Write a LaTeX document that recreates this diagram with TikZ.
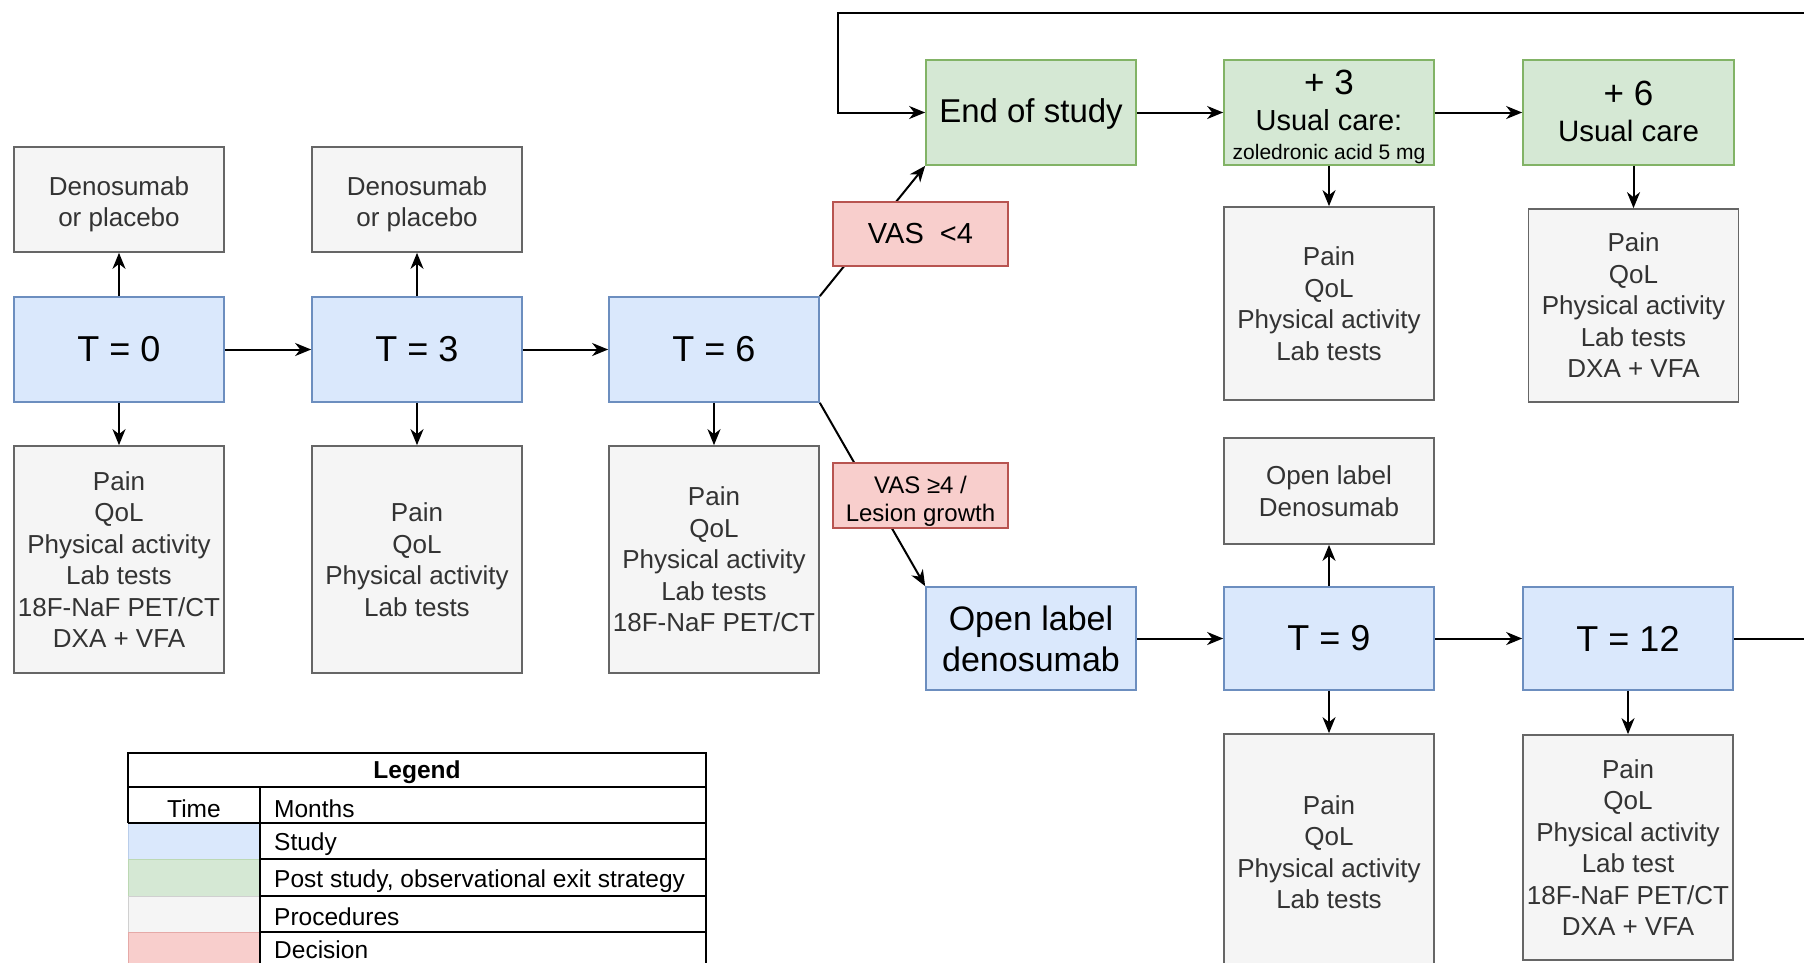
\documentclass[tikz,border=0pt]{standalone}
\usepackage{fontspec}
\setmainfont{Liberation Sans}
\usetikzlibrary{arrows.meta}
\definecolor{bluefill}{HTML}{DAE8FC}
\definecolor{bluedraw}{HTML}{6C8EBF}
\definecolor{greenfill}{HTML}{D5E8D4}
\definecolor{greendraw}{HTML}{82B366}
\definecolor{grayfill}{HTML}{F5F5F5}
\definecolor{graydraw}{HTML}{666666}
\definecolor{graytext}{HTML}{333333}
\definecolor{redfill}{HTML}{F8CECC}
\definecolor{reddraw}{HTML}{B85450}
\newcommand{\fsz}[2]{\fontsize{#1}{#2}\selectfont}
\begin{document}
\begin{tikzpicture}[x=1pt,y=-1pt,
  base/.style={draw, line width=1.7pt, inner sep=0pt, align=center},
  bluebox/.style={base, fill=bluefill, draw=bluedraw, text=black, minimum width=210pt, minimum height=105pt, font=\fsz{36}{42}},
  greenbox/.style={base, fill=greenfill, draw=greendraw, text=black, minimum width=210pt, minimum height=105pt},
  graybox/.style={base, fill=grayfill, draw=graydraw, text=graytext, minimum width=210pt, font=\fsz{26}{31.5}},
  redbox/.style={base, fill=redfill, draw=reddraw, text=black, minimum width=175pt},
  arr/.style={line width=2pt, -{Stealth[length=16pt,width=13pt,inset=5pt]}},
  legtxt/.style={font=\fsz{24.5}{28}, text=black, inner sep=0pt},
]
\useasboundingbox (0,0) rectangle (1804,962);
\clip (0,0) rectangle (1804,962);
\fill[white] (0,0) rectangle (1804,962);

% left part
\node[graybox, minimum height=105pt] (Den1) at (119,199.5) {\rule{0pt}{28pt}Denosumab\\or placebo};
\node[bluebox] (T0) at (119,349.5) {T = 0};
\node[graybox, minimum height=227pt] (Proc1) at (119,559.5) {Pain\\QoL\\Physical activity\\Lab tests\\18F-NaF PET/CT\\DXA + VFA};
\node[graybox, minimum height=105pt] (Den2) at (417,199.5) {\rule{0pt}{28pt}Denosumab\\or placebo};
\node[bluebox] (T3) at (417,349.5) {T = 3};
\node[graybox, minimum height=227pt] (Proc2) at (417,559.5) {Pain\\QoL\\Physical activity\\Lab tests};
\node[bluebox] (T6) at (714,349.5) {T = 6};
\node[graybox, minimum height=227pt] (Proc3) at (714,559.5) {Pain\\QoL\\Physical activity\\Lab tests\\18F-NaF PET/CT};

% upper branch
\node[greenbox, font=\fsz{33}{40}] (End) at (1031,112.5) {\rule{0pt}{27pt}End of study};
\node[greenbox, font=\fsz{29}{36},
  label={[anchor=south, inner sep=0pt, yshift=2pt, font=\fsz{21}{24}]south:zoledronic acid 5 mg}]
  (P3) at (1329,112.5) {{\fsz{35}{36}+ 3}\\Usual care:\rule[-24pt]{0pt}{24pt}};
\node[greenbox, font=\fsz{29.5}{36}, minimum width=211pt] (P6) at (1628.5,112.5) {{\fsz{35}{36}+ 6}\\Usual care\rule[-3pt]{0pt}{3pt}};
\node[graybox, minimum height=193pt] (ProcP3) at (1329,303.5) {Pain\\QoL\\Physical activity\\Lab tests};
\node[graybox, minimum height=193pt] (ProcP6) at (1633.5,305.5) {Pain\\QoL\\Physical activity\\Lab tests\\DXA + VFA};

% lower branch
\node[graybox, minimum height=106pt] (OLD) at (1329,491) {Open label\\Denosumab};
\node[bluebox, font=\fsz{34}{41}, minimum height=103pt] (OLB) at (1031,638.5) {Open label\\denosumab};
\node[bluebox, minimum height=103pt] (T9) at (1329,638.5) {T = 9};
\node[bluebox, minimum height=103pt] (T12) at (1628,638.5) {T = 12};
\node[graybox, minimum height=236pt] (Proc9) at (1329,852) {Pain\\QoL\\Physical activity\\Lab tests};
\node[graybox, minimum height=225pt] (Proc12) at (1628,847.5) {Pain\\QoL\\Physical activity\\Lab test\\18F-NaF PET/CT\\DXA + VFA};

% connectors
\draw[arr] (T0.north) -- (Den1.south);
\draw[arr] (T0.south) -- (Proc1.north);
\draw[arr] (T0.east) -- (T3.west);
\draw[arr] (T3.north) -- (Den2.south);
\draw[arr] (T3.south) -- (Proc2.north);
\draw[arr] (T3.east) -- (T6.west);
\draw[arr] (T6.south) -- (Proc3.north);
\draw[arr] (T6.north east) -- (End.south west);
\draw[arr] (T6.south east) -- (OLB.north west);
\draw[arr] (End.east) -- (P3.west);
\draw[arr] (P3.east) -- (P6.west);
\draw[arr] (P3.south) -- (ProcP3.north);
\draw[arr] (P6.south -| ProcP6.north) -- (ProcP6.north);
\draw[arr] (OLB.east) -- (T9.west);
\draw[arr] (T9.north) -- (OLD.south);
\draw[arr] (T9.south) -- (Proc9.north);
\draw[arr] (T9.east) -- (T12.west);
\draw[arr] (T12.south) -- (Proc12.north);
\coordinate (loopR) at (1840,12.5);
\coordinate (loopL) at (838,12.5);
\draw[arr] (T12.east) -| (loopR) -- (loopL) |- (End.west);

% decisions (on top of connectors)
\node[redbox, minimum height=64pt, font=\fsz{29}{34}] (VAS1) at (920.5,234) {VAS\ \ <4};
\node[redbox, minimum height=65pt, font=\fsz{24}{28}] (VAS2) at (920.5,495.5) {\rule{0pt}{28pt}VAS ≥4 /\\Lesion growth};

% legend
\fill[bluefill] (128,823) rectangle (260,859);
\fill[greenfill] (128,859) rectangle (260,896);
\fill[grayfill] (128,896) rectangle (260,932);
\fill[redfill] (128,932) rectangle (260,968);
\draw[bluefill!70!bluedraw, line width=1pt] (128,823) rectangle (260,859);
\draw[greenfill!70!greendraw, line width=1pt] (128,859) rectangle (260,896);
\draw[grayfill!85!black, line width=1pt] (128,896) rectangle (260,932);
\draw[redfill!70!reddraw, line width=1pt] (128,932) rectangle (260,968);
\draw[line width=1.7pt] (128,823) -- (128,753) -- (706,753) -- (706,968);
\draw[line width=1.7pt] (128,787) -- (706,787);
\draw[line width=1.7pt] (128,823) -- (706,823);
\draw[line width=1.7pt] (260,787) -- (260,968);
\draw[line width=1.7pt] (260,859) -- (706,859);
\draw[line width=1.7pt] (260,896) -- (706,896);
\draw[line width=1.7pt] (260,932) -- (706,932);
\node[legtxt, font=\fsz{24.5}{28}\bfseries] (legT) at (417,772) {Legend};
\node[legtxt] (legTime) at (194,808.5) {Time};
\node[legtxt, anchor=west] (legM) at (274,808.5) {Months};
\node[legtxt, anchor=west] (legS) at (274,844.5) {Study};
\node[legtxt, anchor=west] (legP) at (274,881) {Post study, observational exit strategy};
\node[legtxt, anchor=west] (legPr) at (274,917) {Procedures};
\node[legtxt, anchor=west] (legD) at (274,950) {Decision};
\end{tikzpicture}
\end{document}
